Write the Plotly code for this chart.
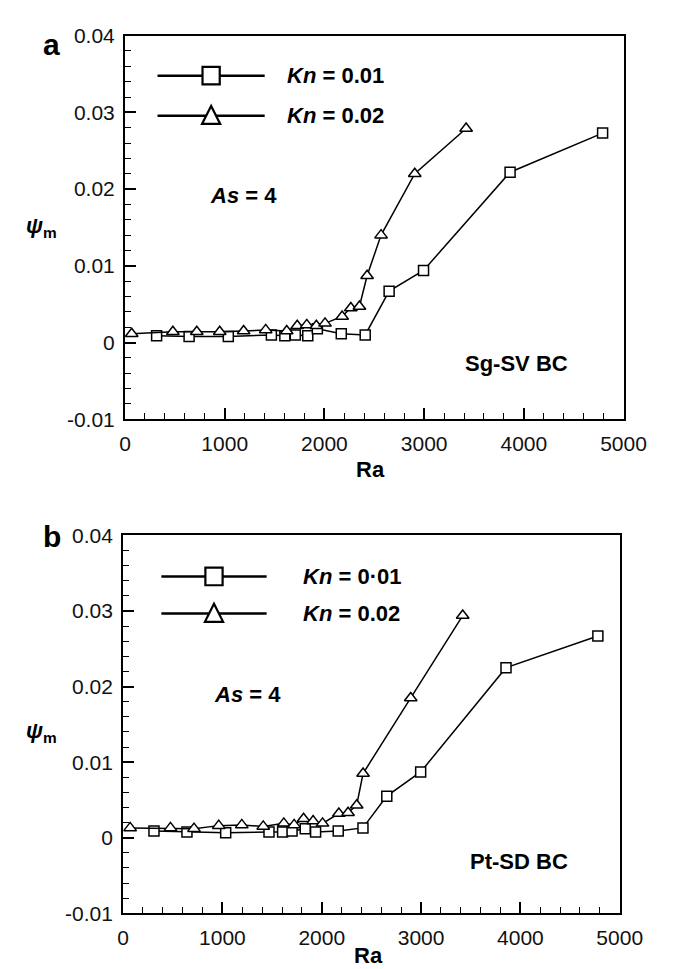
import plotly.graph_objects as go

W, H = 673, 969
FONT = "Liberation Sans, Arial, Helvetica, sans-serif"

# ---------------- data ----------------
# Panel a : Sg-SV BC
ra_a_kn01 = [317, 643, 1036, 1468, 1603, 1708, 1833, 1929, 2169, 2409, 2649, 2994, 3862, 4790]
psi_a_kn01 = [0.0009, 0.00078, 0.00078, 0.001, 0.0009, 0.001, 0.0009, 0.0018, 0.00115, 0.001,
              0.0067, 0.0094, 0.0222, 0.0273]
ra_a_kn02 = [67, 480, 720, 950, 1190, 1411, 1622, 1727, 1823, 1919, 2006, 2178, 2265, 2351,
             2428, 2568, 2906, 3421]
psi_a_kn02 = [0.00115, 0.0014, 0.0014, 0.0014, 0.0015, 0.00165, 0.0015, 0.0022, 0.0023, 0.0022,
              0.0025, 0.0034, 0.0045, 0.0047, 0.0087, 0.0140, 0.0220, 0.0279]

# Panel b : Pt-SD BC
ra_b_kn01 = [311, 643, 1033, 1469, 1606, 1701, 1834, 1938, 2166, 2415, 2655, 2996, 3855, 4780]
psi_b_kn01 = [0.00088, 0.00075, 0.00066, 0.00075, 0.00075, 0.00088, 0.00118, 0.00075, 0.00088,
              0.0013, 0.0055, 0.0087, 0.0225, 0.0267]
ra_b_kn02 = [71, 477, 714, 963, 1195, 1411, 1618, 1722, 1817, 1913, 2008, 2172, 2265, 2352,
             2416, 2896, 3419]
psi_b_kn02 = [0.0013, 0.0013, 0.0012, 0.0016, 0.0017, 0.0015, 0.0019, 0.0017, 0.0025, 0.0022,
              0.0019, 0.0032, 0.0033, 0.0043, 0.0085, 0.0185, 0.0294]

x_tickvals = [0, 1000, 2000, 3000, 4000, 5000]
x_ticktext = ["0", "1000", "2000", "3000", "4000", "5000"]
y_tickvals = [-0.01, 0, 0.01, 0.02, 0.03, 0.04]
y_ticktext = ["-0.01", "0", "0.01", "0.02", "0.03", "0.04"]

legend_a = ["<b><i>Kn</i> = 0.01</b>", "<b><i>Kn</i> = 0.02</b>"]
legend_b = ["<b><i>Kn</i> = 0\u00b701</b>", "<b><i>Kn</i> = 0.02</b>"]
bc_a = "Sg-SV BC"
bc_b = "Pt-SD BC"


def px(x):
    return x / W


def py(y):
    return 1 - y / H


fig = go.Figure()

line_style = dict(color="black", width=1.5)


def add_series(xs, ys, symbol, size, xa, ya):
    fig.add_trace(go.Scatter(
        x=xs, y=ys, mode="lines+markers", xaxis=xa, yaxis=ya,
        line=line_style,
        marker=dict(symbol=symbol, size=size, color="white",
                    line=dict(color="black", width=1.5)),
        showlegend=False, cliponaxis=False))


add_series(ra_a_kn01, psi_a_kn01, "square", 10, "x", "y")
add_series(ra_a_kn02, psi_a_kn02, "triangle-up", 11, "x", "y")
add_series(ra_b_kn01, psi_b_kn01, "square", 10, "x2", "y2")
add_series(ra_b_kn02, psi_b_kn02, "triangle-up", 11, "x2", "y2")


def xaxis(dom, anchor):
    return dict(domain=dom, anchor=anchor, range=[0, 5000],
                tickmode="array", tickvals=x_tickvals, ticktext=x_ticktext,
                ticks="inside", ticklen=11, tickwidth=1.5, tickcolor="black",
                minor=dict(tickmode="linear", tick0=0, dtick=200, ticks="inside",
                           ticklen=6, tickwidth=1, tickcolor="black"),
                showline=True, linecolor="black", linewidth=2, mirror=True,
                showgrid=False, zeroline=False,
                tickfont=dict(family=FONT, size=21, color="#111"),
                ticklabelstandoff=5)


def yaxis(dom, anchor):
    return dict(domain=dom, anchor=anchor, range=[-0.01, 0.04],
                tickmode="array", tickvals=y_tickvals, ticktext=y_ticktext,
                ticks="inside", ticklen=11, tickwidth=1.5, tickcolor="black",
                minor=dict(tickmode="linear", tick0=0, dtick=0.002, ticks="inside",
                           ticklen=6, tickwidth=1, tickcolor="black"),
                showline=True, linecolor="black", linewidth=2, mirror=True,
                showgrid=False, zeroline=False,
                tickfont=dict(family=FONT, size=21, color="#111"),
                ticklabelstandoff=4)


fig.update_layout(
    width=W, height=H,
    margin=dict(l=0, r=0, t=0, b=0),
    paper_bgcolor="white", plot_bgcolor="white",
    xaxis=xaxis([px(116), px(637)], "y"),
    yaxis=yaxis([py(409), py(16)], "x"),
    xaxis2=xaxis([px(114), px(633)], "y2"),
    yaxis2=yaxis([py(915), py(528)], "x2"),
    font=dict(family=FONT, color="black"),
)

annotations = []
shapes = []


def text(x, y, s, size, anchor="center"):
    annotations.append(dict(x=px(x), y=py(y), xref="paper", yref="paper", text=s,
                            showarrow=False, xanchor=anchor, yanchor="middle",
                            font=dict(family=FONT, size=size, color="black")))


def legend(x0, x1, xm, y1, y2, tx, labels):
    # line samples
    for yy in (y1, y2):
        shapes.append(dict(type="line", xref="paper", yref="paper",
                           x0=px(x0), x1=px(x1), y0=py(yy), y1=py(yy),
                           line=dict(color="black", width=2.5)))
    # square glyph
    shapes.append(dict(type="rect", xref="paper", yref="paper",
                       x0=px(xm - 9), x1=px(xm + 9), y0=py(y1 + 9), y1=py(y1 - 9),
                       fillcolor="white", line=dict(color="black", width=2.2)))
    # triangle glyph
    path = "M {} {} L {} {} L {} {} Z".format(
        px(xm), py(y2 - 10), px(xm - 9.5), py(y2 + 8.5), px(xm + 9.5), py(y2 + 8.5))
    shapes.append(dict(type="path", xref="paper", yref="paper", path=path,
                       fillcolor="white", line=dict(color="black", width=2.2)))
    text(tx, y1, labels[0], 22, "left")
    text(tx, y2, labels[1], 22, "left")


# Panel a decorations
legend(150, 262, 206, 57, 98, 283, legend_a)
text(240, 180, "<b><i>As</i> = 4</b>", 22)
text(525, 352, "<b>" + bc_a + "</b>", 22)
text(39, 25, "<b>a</b>", 30)
text(373, 460, "<b>Ra</b>", 22)
text(29, 212, "<b><i>\u03c8</i></b><sub><b>m</b></sub>", 22)

# Panel b decorations
legend(154, 264, 209, 570, 608, 300, legend_b)
text(244, 691, "<b><i>As</i> = 4</b>", 22)
text(528, 862, "<b>" + bc_b + "</b>", 22)
text(40, 529, "<b>b</b>", 30)
text(370, 958, "<b>Ra</b>", 22)
text(29, 729, "<b><i>\u03c8</i></b><sub><b>m</b></sub>", 22)

fig.update_layout(annotations=annotations, shapes=shapes)

fig.write_html("out.html")
